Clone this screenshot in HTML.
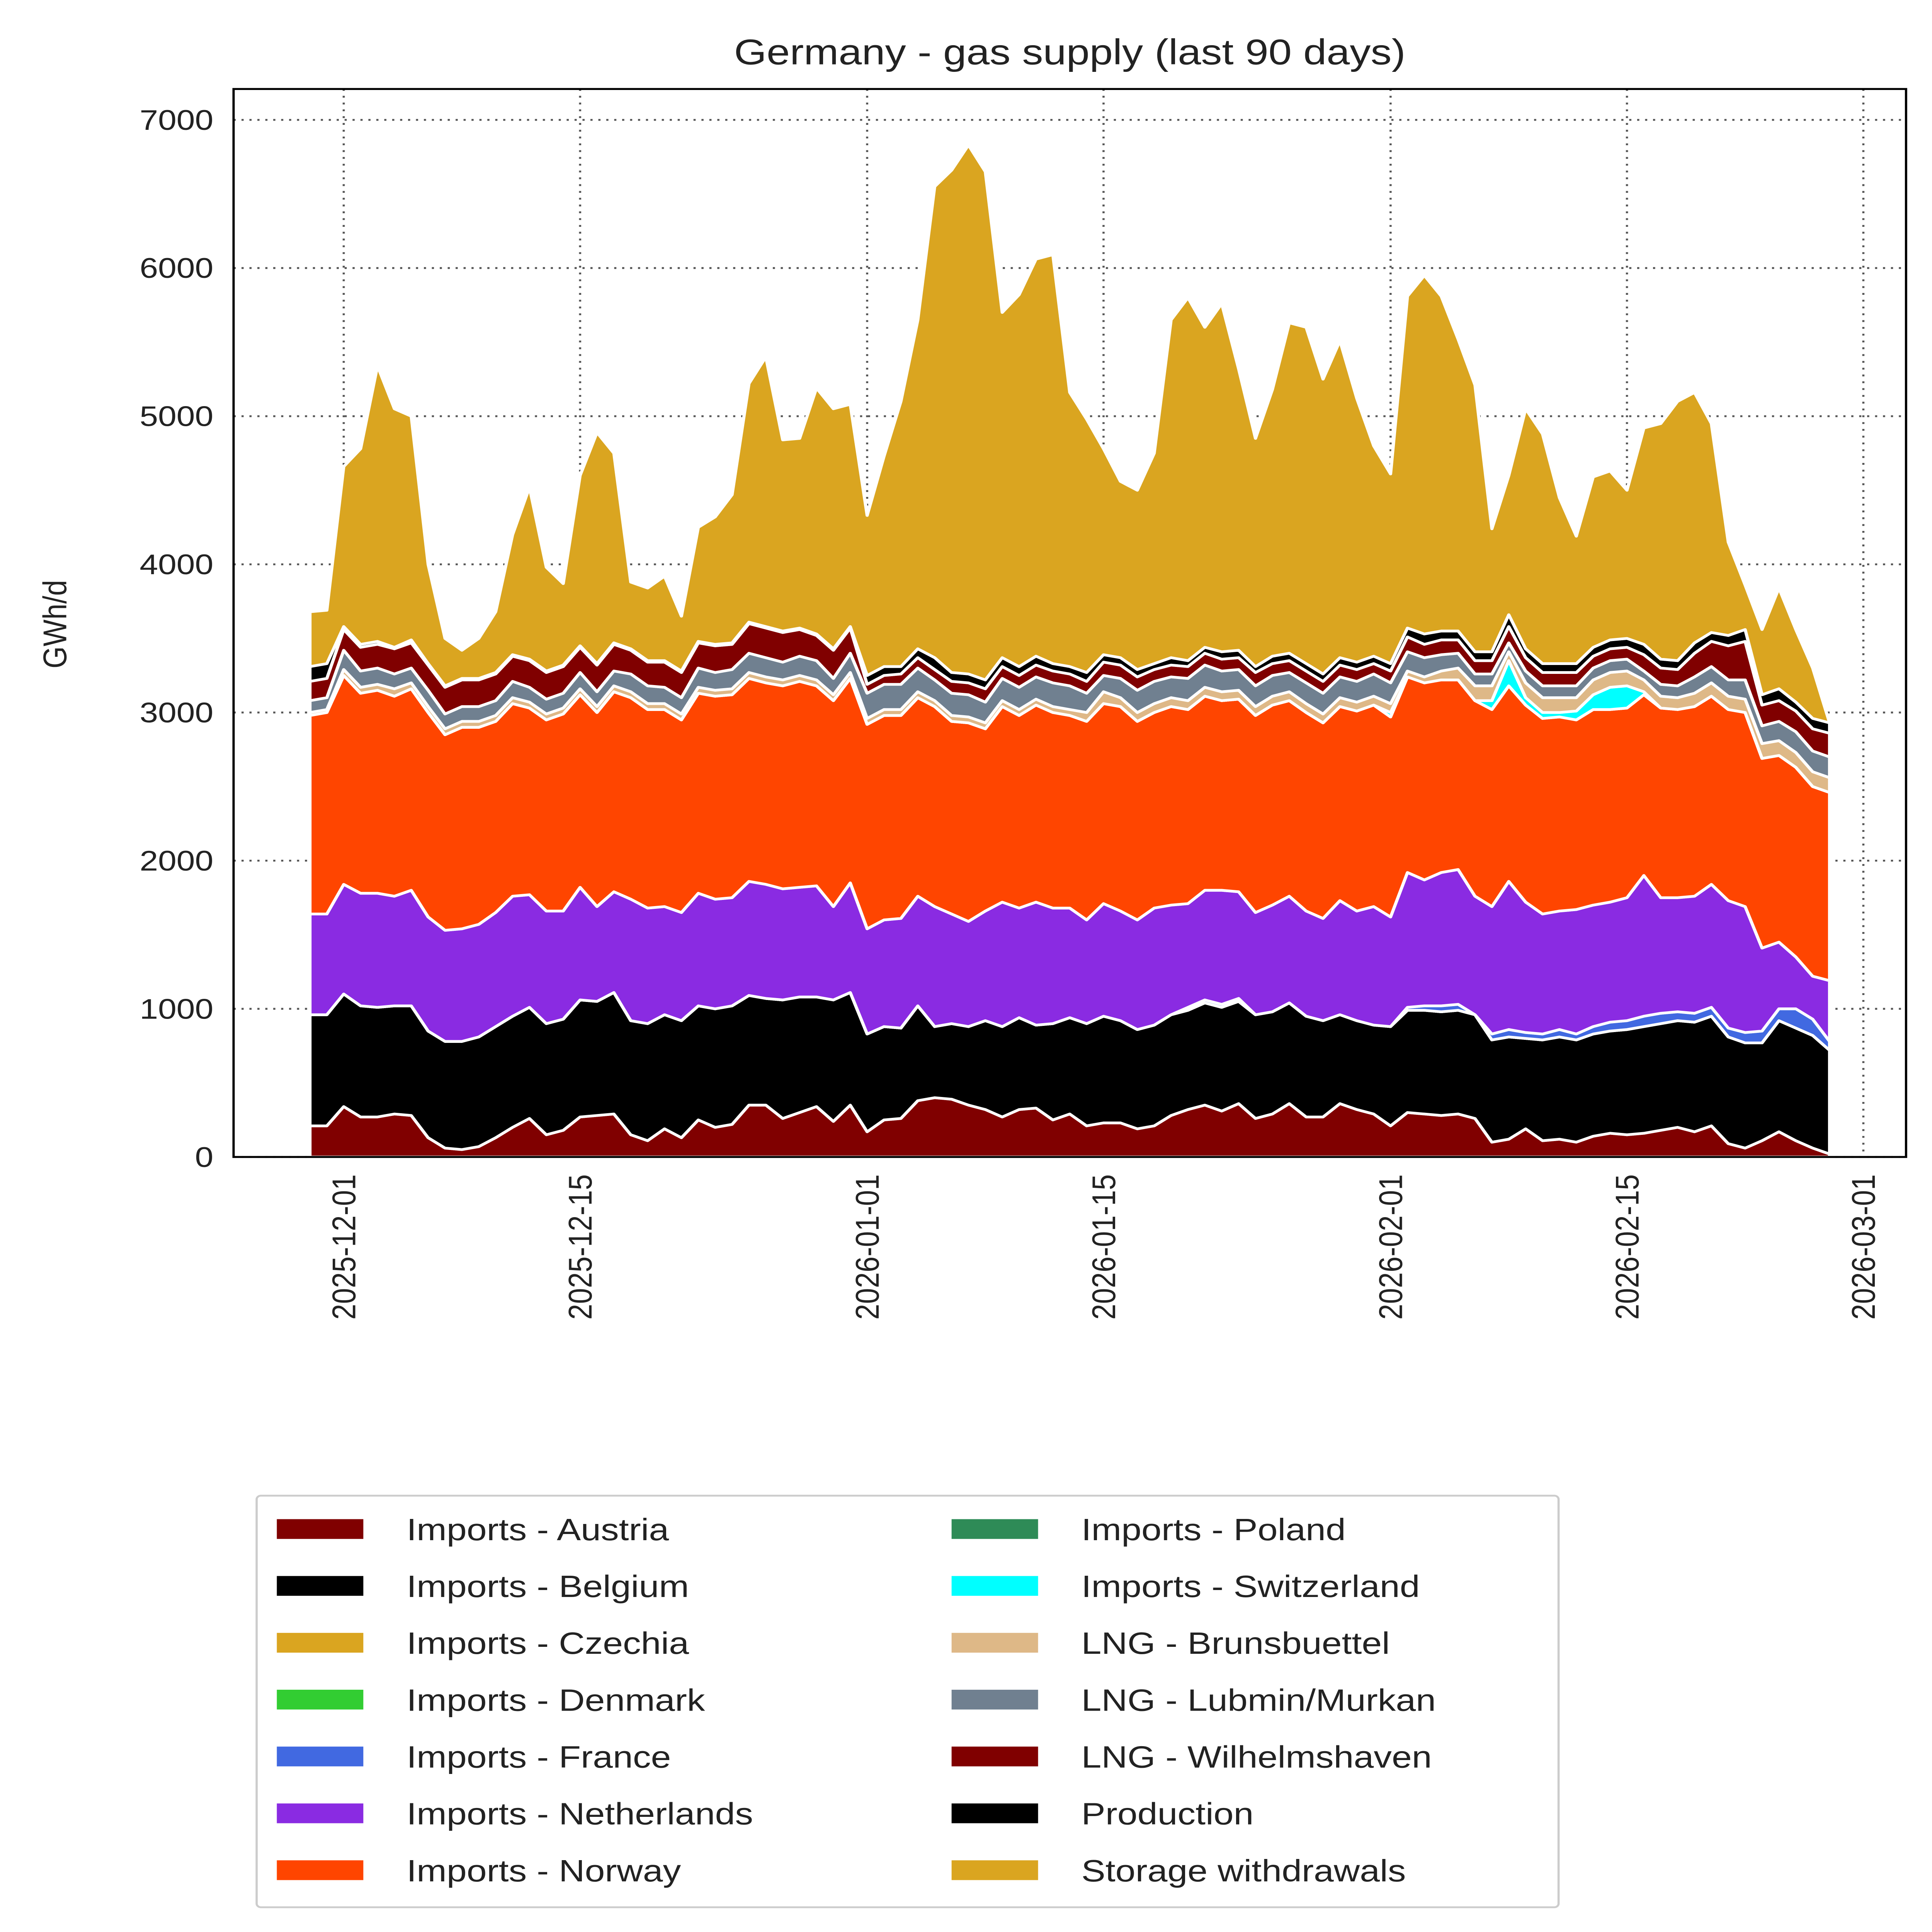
<!DOCTYPE html>
<html><head><meta charset="utf-8"><style>
html,body{margin:0;padding:0;background:#fff;width:100vw;height:100vh;overflow:hidden;}
svg{display:block;width:100vw;height:100vh;font-family:"Liberation Sans","DejaVu Sans",sans-serif;}
</style></head><body>
<svg id="chart" viewBox="0 0 1340 1563" preserveAspectRatio="none" xmlns="http://www.w3.org/2000/svg">
<text x="742" y="52" text-anchor="middle" font-size="29" fill="#222">Germany - gas supply (last 90 days)</text>
<text transform="translate(46,505) rotate(-90)" text-anchor="middle" font-size="23" fill="#222">GWh/d</text>
<g id="grid"></g>
<g id="areas"></g>
<rect x="162" y="72" width="1160" height="864" fill="none" stroke="#000" stroke-width="1.6"/>
<g id="ticks"></g>
<g id="legend">
<rect x="178" y="1210" width="903" height="333" fill="#fff" stroke="#ccc" stroke-width="1.5" rx="3"/>
</g>
</svg>
<script>
const startDate = "2025-11-29";
const austria = [210,210,340,270,270,290,280,130,60,50,70,130,200,260,150,180,270,280,290,150,110,190,130,250,200,220,350,350,260,300,340,240,350,170,250,260,380,400,390,350,320,270,320,330,250,290,210,230,230,190,210,280,320,350,310,360,260,290,360,270,270,360,320,290,210,300,290,280,290,260,100,120,190,110,120,100,140,160,150,160,180,200,170,210,90,60,110,170,110,60,20];
const belgium = [750,750,760,750,740,730,740,720,720,730,740,750,750,750,750,750,790,770,820,770,790,770,790,770,800,800,740,720,800,780,740,820,760,660,630,610,640,480,510,530,600,610,620,560,650,650,690,720,690,670,680,680,670,690,700,690,700,690,680,680,650,600,600,600,670,690,700,700,700,700,690,690,610,680,690,690,690,690,710,720,720,720,740,740,720,710,660,750,760,760,700];
const czechia = new Array(91).fill(0);
const denmark = new Array(91).fill(0);
const france = [0,0,0,0,0,0,0,0,0,0,0,0,0,0,0,0,0,0,0,0,0,0,0,0,0,0,0,0,0,0,0,0,0,0,0,0,0,0,0,0,0,0,0,0,0,0,0,0,0,0,0,0,20,20,20,20,0,0,0,0,0,0,0,0,0,20,30,40,40,0,40,50,40,40,50,40,50,60,60,70,70,60,60,60,60,70,80,80,130,110,60];
const netherlands = [680,680,740,760,770,740,780,770,750,760,760,770,810,760,760,730,760,640,680,820,780,730,730,760,740,730,770,770,750,740,750,630,740,710,720,740,740,810,740,710,740,840,740,830,780,740,700,760,740,740,790,740,700,740,770,720,690,720,720,710,690,770,740,800,740,910,850,900,910,800,860,1000,880,810,800,840,820,810,830,950,780,770,790,830,860,850,560,450,350,290,410];
const norway = [1340,1360,1410,1350,1370,1350,1360,1380,1320,1360,1330,1290,1300,1260,1290,1330,1300,1310,1350,1360,1340,1330,1300,1350,1370,1370,1370,1360,1370,1390,1350,1390,1380,1380,1380,1370,1340,1350,1300,1340,1230,1320,1300,1330,1320,1300,1340,1350,1380,1340,1320,1340,1310,1310,1280,1300,1330,1350,1320,1340,1320,1310,1350,1360,1350,1320,1330,1300,1280,1320,1330,1320,1330,1320,1310,1280,1320,1300,1280,1220,1280,1270,1280,1270,1290,1310,1280,1260,1280,1280,1270];
const poland = new Array(91).fill(0);
const switzerland = [0,0,0,0,0,0,0,0,0,0,0,0,0,0,0,0,0,0,0,0,0,0,0,0,0,0,0,0,0,0,0,0,0,0,0,0,0,0,0,0,0,0,0,0,0,0,0,0,0,0,0,0,0,0,0,0,0,0,0,0,0,0,0,0,30,0,0,0,0,0,60,170,50,40,30,60,100,150,150,20,0,0,0,0,0,0,0,0,0,0,0];
const brunsbuettel = [20,20,40,40,40,50,40,40,40,40,40,40,40,40,40,40,40,40,40,40,40,40,40,40,40,40,40,40,40,40,40,40,40,40,40,40,40,40,40,40,40,40,40,40,40,40,60,80,60,60,60,60,60,60,60,60,60,60,60,60,60,60,60,60,60,40,40,60,80,100,100,60,100,100,100,90,100,100,100,80,80,80,90,90,90,90,100,100,100,100,100];
const lubmin = [80,80,130,110,110,100,100,110,100,100,100,100,110,100,100,100,110,100,100,120,120,110,110,130,120,130,130,130,120,130,130,110,130,170,170,170,160,140,150,150,140,150,150,150,160,160,130,110,130,150,150,140,150,150,140,140,140,140,130,140,140,140,140,150,140,130,130,110,100,80,80,60,80,80,80,80,80,80,80,60,80,80,110,110,110,130,120,130,140,140,140];
const wilhelmshaven = [130,130,140,160,160,170,170,170,180,180,180,180,170,180,180,180,170,180,180,160,160,170,170,170,180,170,200,200,200,180,170,190,170,60,60,70,70,70,80,80,90,80,80,80,80,80,80,90,90,90,80,80,80,80,80,80,90,80,80,80,80,80,80,70,80,100,90,100,90,90,90,110,90,90,90,90,80,80,80,110,110,110,160,170,230,260,140,140,140,150,160];
const production = [100,100,20,20,20,10,20,10,10,10,10,10,10,10,10,10,10,10,10,10,10,10,10,10,10,10,10,10,10,10,10,10,10,60,60,50,60,80,60,60,60,60,60,60,50,50,60,50,50,50,40,50,40,40,50,50,40,50,50,50,50,50,50,50,50,60,70,60,60,60,60,80,60,60,60,60,60,60,60,70,60,60,70,60,70,80,70,80,60,70,70];
const storage = [370,360,1080,1320,1860,1610,1510,670,320,190,270,410,810,1160,700,550,1150,1560,1280,450,490,570,370,770,860,1000,1610,1820,1290,1280,1660,1620,1500,1080,1420,1790,2220,3180,3390,3570,3430,2330,2510,2680,2760,1850,1710,1390,1190,1210,1420,2280,2450,2160,2350,1900,1540,1800,2230,2270,1990,2140,1780,1420,1280,2240,2420,2260,1970,1800,830,940,1620,1550,1120,860,1150,1140,1000,1460,1590,1750,1690,1410,630,300,440,680,490,340,0];
const seriesNames = ["Imports - Austria","Imports - Belgium","Imports - Czechia","Imports - Denmark","Imports - France","Imports - Netherlands","Imports - Norway","Imports - Poland","Imports - Switzerland","LNG - Brunsbuettel","LNG - Lubmin/Murkan","LNG - Wilhelmshaven","Production","Storage withdrawals"];
const seriesData = [austria,belgium,czechia,denmark,france,netherlands,norway,poland,switzerland,brunsbuettel,lubmin,wilhelmshaven,production,storage];
const colors = ["#800000","#000000","#daa520","#32cd32","#4169e1","#8a2be2","#ff4500","#2e8b57","#00ffff","#deb887","#708090","#800000","#000000","#daa520"];
const yTicks = [0,1000,2000,3000,4000,5000,6000,7000];
const xTickLabels = ["2025-12-01","2025-12-15","2026-01-01","2026-01-15","2026-02-01","2026-02-15","2026-03-01"];

const NS="http://www.w3.org/2000/svg";
const DAY=86400000, ref=Date.UTC(2025,11,1);
function dayOf(s){const p=s.split("-");return (Date.UTC(+p[0],+p[1]-1,+p[2])-ref)/DAY;}
function xScale(d){return 238.4+d*11.711;}
function yScale(v){return 936-v*0.11986;}
const d0=dayOf(startDate);
function mk(tag,attrs,parent){const e=document.createElementNS(NS,tag);for(const k in attrs)e.setAttribute(k,attrs[k]);parent.appendChild(e);return e;}

const grid=document.getElementById("grid");
yTicks.forEach(v=>{const y=yScale(v);
 const l=mk("line",{x1:162,x2:1322,y1:y,y2:y,stroke:"#555","stroke-width":1.5,"stroke-dasharray":"1.5,4"},grid);
 
 });
xTickLabels.forEach(s=>{const x=xScale(dayOf(s));
 const l=mk("line",{x1:x,x2:x,y1:72,y2:936,stroke:"#555","stroke-width":1.5,"stroke-dasharray":"1.5,4"},grid);
 
 });

const areas=document.getElementById("areas");
const n=storage.length;
let base=new Array(n).fill(0);
seriesData.forEach((arr,si)=>{
 const top=base.map((b,i)=>b+arr[i]);
 let pts=[];
 for(let i=0;i<n;i++)pts.push(xScale(d0+i).toFixed(2)+","+yScale(top[i]).toFixed(2));
 for(let i=n-1;i>=0;i--)pts.push(xScale(d0+i).toFixed(2)+","+yScale(base[i]).toFixed(2));
 const p=mk("polygon",{points:pts.join(" "),fill:colors[si],stroke:"#fff","stroke-width":2.2,"stroke-linejoin":"round"},areas);
 
 
 base=top;
});

const ticks=document.getElementById("ticks");
yTicks.forEach(v=>{
 const t=mk("text",{x:148,y:yScale(v)+8,"text-anchor":"end","font-size":23,fill:"#222"},ticks);
 t.textContent=v;
 
 });
xTickLabels.forEach(s=>{const x=xScale(dayOf(s));
 const t=mk("text",{transform:"translate("+(x+8)+",950) rotate(-90)","text-anchor":"end","font-size":23,fill:"#222"},ticks);
 t.textContent=s;
 
 });

const leg=document.getElementById("legend");
seriesNames.forEach((name,i)=>{
 const col=i<7?0:1,row=i%7;
 const sx=col?660:192,tx=col?750:282,cy=1237+row*46;
 const r=mk("rect",{x:sx,y:cy-8,width:60,height:16,fill:colors[i]},leg);
 
 
 const t=mk("text",{x:tx,y:cy+9,"font-size":25,fill:"#222"},leg);
 t.textContent=name;
 
 
});
</script>
</body></html>
